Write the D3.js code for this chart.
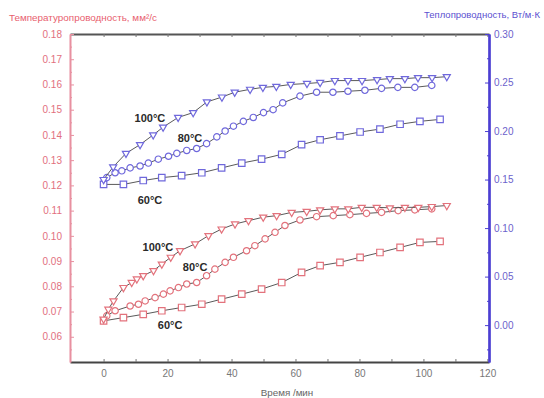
<!DOCTYPE html>
<html>
<head>
<meta charset="utf-8">
<script src="https://cdn.jsdelivr.net/npm/d3@7"></script>
<style>
  html, body { margin: 0; padding: 0; background: #fff; }
  svg { display: block; font-family: "Liberation Sans", Arial, sans-serif; }
</style>
</head>
<body>
<svg id="chart" width="544" height="398"></svg>
<script>
// Thermal conductivity (right axis), W/m·K
const condT100 = [0, 3, 7, 11.4, 15.5, 18.6, 23.3, 28, 32.3, 37, 41, 45.8, 49.8, 54, 58.5, 63.6, 67.7, 72.3, 76.4, 80.8, 85.5, 89.5, 94.2, 98.3, 102.7, 107.3];
const condV100 = [0.150, 0.163, 0.177, 0.186, 0.196, 0.204, 0.214, 0.219, 0.230, 0.235, 0.240, 0.243, 0.245, 0.246, 0.248, 0.249, 0.250, 0.252, 0.252, 0.252, 0.253, 0.254, 0.254, 0.255, 0.255, 0.256];
const condT80 = [1, 3.6, 5.7, 8.3, 11.4, 14, 17.1, 20.3, 22.9, 26, 29.1, 32.2, 35.4, 38, 40.6, 43.7, 46.8, 50, 53, 56, 61.4, 66.6, 71.7, 76.4, 81.7, 86.9, 92, 97.3, 102.6];
const condV80 = [0.152, 0.157, 0.159, 0.162, 0.164, 0.167, 0.171, 0.174, 0.177, 0.180, 0.182, 0.187, 0.194, 0.200, 0.205, 0.210, 0.214, 0.219, 0.222, 0.229, 0.236, 0.240, 0.240, 0.241, 0.242, 0.244, 0.245, 0.245, 0.247];
const condT60 = [0, 6.2, 12.4, 18.2, 24.4, 30.7, 36.9, 43.2, 49.4, 55.7, 61.9, 67.7, 73.9, 80.2, 86.4, 92.7, 98.9, 105.2];
const condV60 = [0.145, 0.145, 0.149, 0.152, 0.154, 0.157, 0.162, 0.167, 0.171, 0.176, 0.186, 0.191, 0.195, 0.199, 0.202, 0.207, 0.210, 0.212];

// Thermal diffusivity (left axis), mm²/s
const difT100 = [0, 1.5, 3.1, 6.2, 8.8, 10.4, 12.4, 15.6, 18.2, 21, 23.9, 28.6, 32.8, 36.9, 41.1, 45.3, 49.9, 54.1, 58.8, 63.5, 67.7, 72.3, 76.5, 80.7, 85.4, 89.5, 94.2, 98.4, 102.6, 107.3];
const difV100 = [0.0670, 0.0709, 0.0742, 0.0795, 0.0815, 0.0829, 0.0842, 0.0862, 0.0888, 0.0915, 0.0941, 0.0968, 0.1001, 0.1027, 0.1047, 0.1060, 0.1074, 0.1080, 0.1093, 0.1097, 0.1103, 0.1107, 0.1107, 0.1113, 0.1113, 0.1111, 0.1113, 0.1113, 0.1116, 0.1120];
const difT80 = [1, 3.6, 8.3, 10.9, 13, 16.1, 18.7, 20.8, 23.4, 26, 29.1, 32.2, 34.8, 38, 40.6, 44.7, 47.3, 50.5, 53.6, 56.7, 61.4, 66.6, 71.8, 77, 82.2, 86.9, 92.1, 97.3, 102.6];
const difV80 = [0.0683, 0.0703, 0.0722, 0.0729, 0.0742, 0.0755, 0.0769, 0.0782, 0.0795, 0.0809, 0.0815, 0.0842, 0.0868, 0.0895, 0.0915, 0.0941, 0.0961, 0.0988, 0.1014, 0.1041, 0.1063, 0.1076, 0.1080, 0.1084, 0.1089, 0.1093, 0.1100, 0.1103, 0.1107];
const difT60 = [0, 6.2, 12.4, 18.2, 24.4, 30.7, 36.9, 43.2, 49.4, 55.7, 61.9, 67.7, 73.9, 80.2, 86.4, 92.7, 98.9, 105.2];
const difV60 = [0.0663, 0.0676, 0.0689, 0.0703, 0.0716, 0.0729, 0.0749, 0.0769, 0.0789, 0.0815, 0.0855, 0.0882, 0.0895, 0.0915, 0.0934, 0.0954, 0.0974, 0.0978];

// Axis ticks and texts
const xTicks = [0, 20, 40, 60, 80, 100, 120];
const leftTicks = [0.06, 0.07, 0.08, 0.09, 0.10, 0.11, 0.12, 0.13, 0.14, 0.15, 0.16, 0.17, 0.18];
const rightTicks = [0.00, 0.05, 0.10, 0.15, 0.20, 0.25, 0.30];
const leftTitle = "Температуропроводность, мм²/с";
const rightTitle = "Теплопроводность, Вт/м·К";
const xTitle = "Время /мин";

// Curve labels: [text, time, value, axis]
const curveLabels = [
  ["100°C", 14.5, 0.2093, "R"],
  ["80°C", 27.0, 0.1887, "R"],
  ["60°C", 14.5, 0.1248, "R"],
  ["100°C", 17.0, 0.0940, "L"],
  ["80°C", 28.6, 0.0860, "L"],
  ["60°C", 20.8, 0.0631, "L"]
];

const svg = d3.select("#chart");
const plot = { left: 70, right: 489, top: 34, bottom: 362 };

const x = d3.scaleLinear().domain([-10.5, 120.5]).range([plot.left, plot.right]);
const yL = d3.scaleLinear().domain([0.05, 0.18]).range([plot.bottom, plot.top]);
const yR = d3.scaleLinear().domain([-0.038, 0.30]).range([plot.bottom, plot.top]);

const blue = "#6f68dc";
const red = "#e3727c";
const lineCol = "#5a5a5a";

// Top frame line with small inward ticks
const gTop = svg.append("g").attr("transform", `translate(0,${plot.top})`)
  .call(d3.axisTop(x).tickValues(d3.range(0, 121, 10)).tickSizeInner(-3).tickSizeOuter(0).tickFormat(""));
gTop.select(".domain").attr("stroke", "#555").attr("stroke-width", 2);
gTop.selectAll(".tick line").attr("stroke", "#777");

// Bottom axis
const gBottom = svg.append("g").attr("transform", `translate(0,${plot.bottom})`)
  .call(d3.axisBottom(x).tickValues(d3.range(0, 121, 10)).tickSizeInner(-3).tickSizeOuter(0).tickPadding(8)
    .tickFormat(d => xTicks.includes(d) ? d3.format("d")(d) : ""));
gBottom.select(".domain").attr("stroke", "#444").attr("stroke-width", 2.2);
gBottom.selectAll(".tick line").attr("stroke", "#777");
gBottom.selectAll(".tick text").attr("fill", "#777").attr("font-size", 10);

// Left axis (diffusivity)
const gLeft = svg.append("g").attr("transform", `translate(${plot.left},0)`);
gLeft.call(d3.axisLeft(yL).tickValues(d3.range(0.055, 0.18, 0.01)).tickSizeInner(-2).tickSizeOuter(0).tickFormat(""));
gLeft.append("g").call(d3.axisLeft(yL).tickValues(leftTicks).tickSizeInner(-4).tickSizeOuter(0).tickPadding(8)
  .tickFormat(d3.format(".2f")));
gLeft.selectAll(".domain").attr("stroke", "#e890a0").attr("stroke-width", 1.6);
gLeft.selectAll("line").attr("stroke", "#e890a0");
gLeft.selectAll("text").attr("fill", "#e2707e").attr("font-size", 10);

// Right axis (conductivity)
const gRight = svg.append("g").attr("transform", `translate(${plot.right},0)`);
gRight.call(d3.axisRight(yR).tickValues(d3.range(-0.025, 0.30, 0.05)).tickSizeInner(-2).tickSizeOuter(0).tickFormat(""));
gRight.append("g").call(d3.axisRight(yR).tickValues(rightTicks).tickSizeInner(-4).tickSizeOuter(0).tickPadding(5)
  .tickFormat(d3.format(".2f")));
gRight.selectAll(".domain").attr("stroke", "#4b3fd2").attr("stroke-width", 2.2);
gRight.selectAll("line").attr("stroke", "#4b3fd2");
gRight.selectAll("text").attr("fill", "#6c62cc").attr("font-size", 10);

// Titles
svg.append("text").attr("x", 9).attr("y", 21).attr("fill", "#e8606e").attr("font-size", 9.9).text(leftTitle);
svg.append("text").attr("x", 540).attr("y", 18).attr("text-anchor", "end").attr("fill", "#5b50d0").attr("font-size", 9.5).text(rightTitle);
svg.append("text").attr("x", 287).attr("y", 396).attr("text-anchor", "middle").attr("fill", "#666").attr("font-size", 9.8).text(xTitle);

// Series
const series = [
  { t: difT60, v: difV60, y: yL, col: red, shape: "square" },
  { t: difT80, v: difV80, y: yL, col: red, shape: "circle" },
  { t: difT100, v: difV100, y: yL, col: red, shape: "tri" },
  { t: condT60, v: condV60, y: yR, col: blue, shape: "square" },
  { t: condT80, v: condV80, y: yR, col: blue, shape: "circle" },
  { t: condT100, v: condV100, y: yR, col: blue, shape: "tri" }
];

const symbols = {
  square: d3.symbol().type(d3.symbolSquare).size(42),
  circle: d3.symbol().type(d3.symbolCircle).size(32),
  tri: d3.symbol().type(d3.symbolTriangle).size(22)
};

series.forEach(s => {
  const pts = s.t.map((t, i) => [t, s.v[i]]);
  svg.append("path")
    .datum(pts)
    .attr("fill", "none")
    .attr("stroke", lineCol)
    .attr("stroke-width", 1)
    .attr("d", d3.line().x(d => x(d[0])).y(d => s.y(d[1])));
  svg.append("g").selectAll("path")
    .data(pts)
    .join("path")
    .attr("transform", d => `translate(${x(d[0])},${s.y(d[1])})` + (s.shape === "tri" ? " rotate(180)" : ""))
    .attr("d", symbols[s.shape]())
    .attr("fill", "#fff")
    .attr("stroke", s.col)
    .attr("stroke-width", 1.2);
});

// Temperature labels on curves
svg.append("g").selectAll("text")
  .data(curveLabels)
  .join("text")
  .attr("x", d => x(d[1]))
  .attr("y", d => (d[3] === "R" ? yR : yL)(d[2]))
  .attr("text-anchor", "middle")
  .attr("font-size", 11)
  .attr("font-weight", "bold")
  .attr("fill", "#2a2a2a")
  .text(d => d[0]);
</script>
</body>
</html>
